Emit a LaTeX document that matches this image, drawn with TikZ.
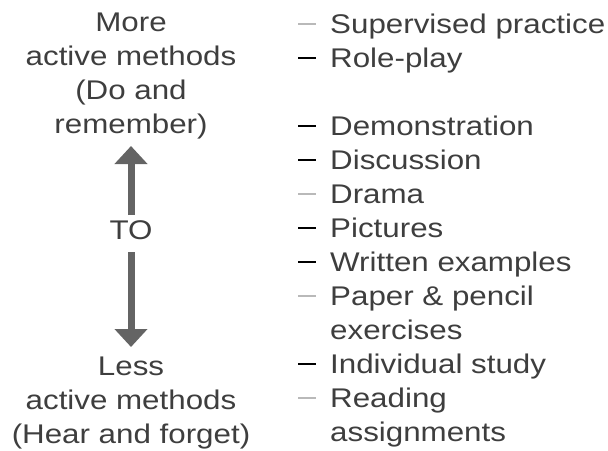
\documentclass[tikz,border=0pt]{standalone}
\usepackage{fontspec}
\setmainfont{Liberation Sans}
\usepackage{graphicx}
\usetikzlibrary{arrows.meta}

\definecolor{inkgray}{RGB}{62,62,62}
\definecolor{arrowgray}{RGB}{100,100,100}
\definecolor{fadegray}{RGB}{185,185,185}
\newcommand{\wide}[1]{\scalebox{1.16}[1]{#1}}

\begin{document}
\begin{tikzpicture}[x=1pt,y=-1pt,
  every node/.style={text=inkgray,font=\fontsize{27}{34}\selectfont,inner sep=0pt},
  headline/.style={anchor=base},
  item/.style={anchor=base west},
  tick/.style={line width=2.3pt},
  bigarrow/.style={arrowgray,line width=7pt,-{Triangle[width=32pt,length=18pt]}}]
\useasboundingbox (0,0) rectangle (608,450);

\node[headline] (more) at (131,31) {\wide{More}};
\node[headline] (activetop) at (131,65) {\wide{active methods}};
\node[headline] (doand) at (131,99) {\wide{(Do and}};
\node[headline] (remember) at (131,133) {\wide{remember)}};
\node[headline] (to) at (131,239) {\wide{TO}};
\node[headline] (less) at (131,375) {\wide{Less}};
\node[headline] (activebot) at (131,409) {\wide{active methods}};
\node[headline] (hear) at (131,443) {\wide{(Hear and forget)}};

\coordinate (upfoot) at (131,215);
\coordinate (uptip) at (131,146);
\coordinate (downfoot) at (131,252);
\coordinate (downtip) at (131,347);
\draw[bigarrow] (upfoot) -- (uptip);
\draw[bigarrow] (downfoot) -- (downtip);

\foreach \name/\row/\txt/\col in {
  supervised/33/Supervised practice/fadegray,
  roleplay/67/Role-play/black,
  demo/135/Demonstration/black,
  discussion/169/Discussion/black,
  drama/203/Drama/fadegray,
  pictures/237/Pictures/black,
  written/271/Written examples/black,
  paper/305/Paper \& pencil/fadegray,
  individual/373/Individual study/black,
  reading/407/Reading/fadegray}
{
  \node[item] (\name) at (330,\row) {\wide{\txt}};
  \draw[tick,\col] (298,\row-9) -- (316,\row-9);
}
\node[item] (exercises) at (330,339) {\wide{exercises}};
\node[item] (assignments) at (330,441) {\wide{assignments}};
\end{tikzpicture}
\end{document}
